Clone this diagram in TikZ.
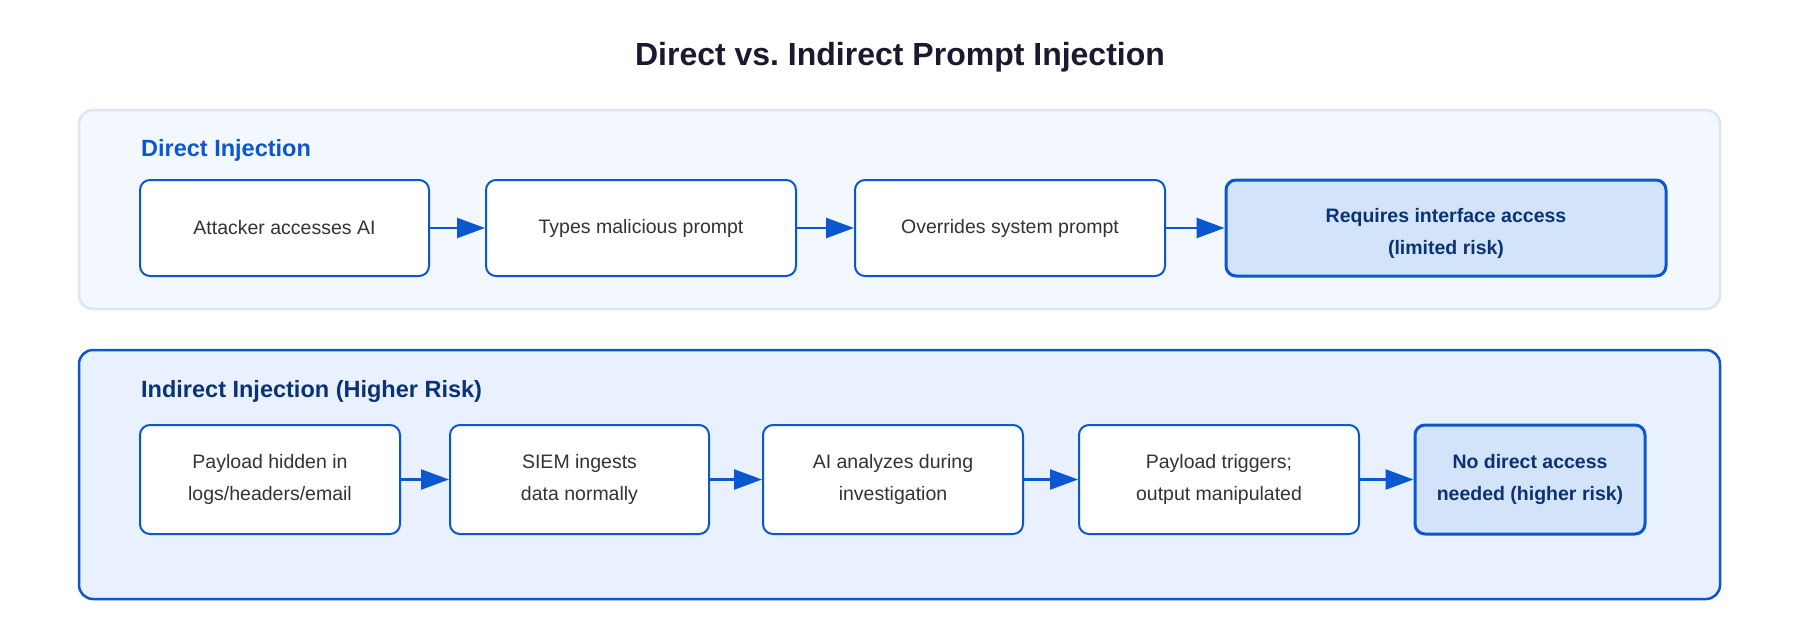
\documentclass[tikz,border=0pt]{standalone}
\usepackage{fontspec}
\setmainfont{Liberation Sans}
\usetikzlibrary{arrows.meta}
\frenchspacing
\definecolor{mainblue}{HTML}{0B57D0}
\definecolor{navy}{HTML}{0A3275}
\definecolor{toppanel}{HTML}{F3F8FE}
\definecolor{topborder}{HTML}{DCE5F2}
\definecolor{botpanel}{HTML}{E8F1FD}
\definecolor{endfill}{HTML}{D3E4FA}
\definecolor{bodytext}{HTML}{333333}
\definecolor{titletext}{HTML}{1A1A2E}
\tikzset{
  stepbox/.style={draw=mainblue, line width=2pt, fill=white, rounded corners=10pt,
    inner sep=0pt, align=center, text=bodytext,
    font=\fontsize{19.5}{32}\selectfont},
  endbox/.style={draw=mainblue, line width=3pt, fill=endfill, rounded corners=10pt,
    inner sep=0pt, align=center, text=navy,
    font=\fontsize{19.5}{32}\selectfont\bfseries},
  flow/.style={draw=mainblue, line width=2.5pt, -{Triangle[length=28pt,width=20pt]}},
  paneltitle/.style={anchor=base west, inner sep=0pt, font=\fontsize{23.5}{28}\selectfont\bfseries}
}
\begin{document}
\begin{tikzpicture}[x=1pt,y=-1pt]
\useasboundingbox (0,0) rectangle (1800,640);
\fill[white] (0,0) rectangle (1800,640);
% title
\node[anchor=center, inner sep=0pt, text=titletext, font=\fontsize{32}{38}\selectfont\bfseries] (title) at (900,57) {Direct vs.\ Indirect Prompt Injection};
% panels
\draw[draw=topborder, fill=toppanel, line width=2.5pt, rounded corners=14pt] (79,110) rectangle (1720,309);
\draw[draw=mainblue, fill=botpanel, line width=2.5pt, rounded corners=14pt] (79,350) rectangle (1720,599);
\node[paneltitle, text=mainblue] (ltop) at (141,156) {Direct Injection};
\node[paneltitle, text=navy] (lbot) at (141,397) {Indirect Injection (Higher Risk)};
% row 1
\node[stepbox, minimum width=289pt, minimum height=96pt] (a1) at (284.5,228) {Attacker accesses AI};
\node[stepbox, minimum width=310pt, minimum height=96pt] (a2) at (641,228) {Types malicious prompt};
\node[stepbox, minimum width=310pt, minimum height=96pt] (a3) at (1010,228) {Overrides system prompt};
\node[endbox, minimum width=440pt, minimum height=96pt] (a4) at (1446,228) {\rule{0pt}{26pt}Requires interface access\\(limited risk)};
\draw[flow] (a1) -- (a2);
\draw[flow] (a2) -- (a3);
\draw[flow] (a3) -- (a4);
% row 2
\node[stepbox, minimum width=260pt, minimum height=109pt] (b1) at (270,479.5) {Payload hidden in\\logs/headers/email};
\node[stepbox, minimum width=259pt, minimum height=109pt] (b2) at (579.5,479.5) {SIEM ingests\\data normally};
\node[stepbox, minimum width=260pt, minimum height=109pt] (b3) at (893,479.5) {AI analyzes during\\investigation};
\node[stepbox, minimum width=280pt, minimum height=109pt] (b4) at (1219,479.5) {Payload triggers;\\output manipulated};
\node[endbox, minimum width=230pt, minimum height=109pt] (b5) at (1530,479.5) {No direct access\\needed (higher risk)};
\draw[flow] (b1) -- (b2);
\draw[flow] (b2) -- (b3);
\draw[flow] (b3) -- (b4);
\draw[flow] (b4) -- (b5);
\end{tikzpicture}
\end{document}
